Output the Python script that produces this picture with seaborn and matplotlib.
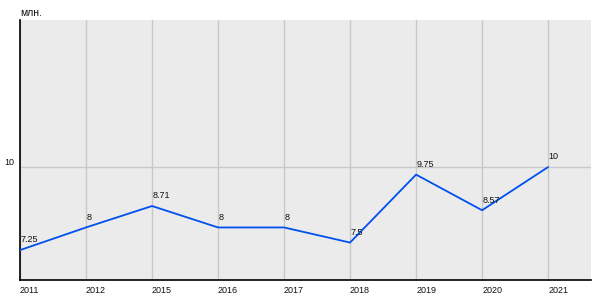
import matplotlib
matplotlib.use("Agg")
import matplotlib.pyplot as plt
import seaborn as sns
import pandas as pd

years = ["2011", "2012", "2015", "2016", "2017", "2018", "2019", "2020", "2021"]
values = [7.25, 8, 8.71, 8, 8, 7.5, 9.75, 8.57, 10]
value_labels = ["7.25", "8", "8.71", "8", "8", "7.5", "9.75", "8.57", "10"]

sns.set_style("white")
plt.rcParams['font.family'] = ['Liberation Sans', 'DejaVu Sans']

df = pd.DataFrame({"pos": range(len(years)), "year": years, "value": values})

fig = plt.figure(figsize=(6, 3), dpi=100)
ax = fig.add_axes([20/600, 20/300, 571/600, 260/300])
ax.set_facecolor("#EBEBEB")

sns.lineplot(data=df, x="pos", y="value", ax=ax, color="#0050EE", linewidth=1.3, zorder=3)

for p, v, t in zip(df["pos"], values, value_labels):
    ax.annotate(t, (p, v), xytext=(0.5, 5.5), textcoords="offset points",
                ha="left", va="baseline", fontsize=6.5, color="#111111", zorder=4)

ax.set_xlim(0, 8.65)
ax.set_ylim(6.26, 14.87)
ax.set_xticks(range(len(years)))
ax.set_xticklabels(years, ha="left")
ax.set_yticks([10])
ax.set_yticklabels(["10"])
ax.grid(True, color="#C8C8C8", linewidth=1)
ax.set_axisbelow(True)
ax.set_xlabel("")
ax.set_ylabel("")
for s in ["top", "right"]:
    ax.spines[s].set_visible(False)
for s in ["left", "bottom"]:
    ax.spines[s].set_color("black")
    ax.spines[s].set_linewidth(1.2)
ax.tick_params(axis="x", length=0, labelsize=6.5, colors="#111111", pad=4)
ax.tick_params(axis="y", length=2.5, labelsize=6.5, colors="#111111", pad=1.5, color="black")
for lbl in ax.get_yticklabels():
    lbl.set_va("bottom")
fig.text(20/600, 1 - 13/300, "млн.", fontsize=7.5, color="#111111", ha="left", va="center")

fig.savefig("out.png", dpi=100)
